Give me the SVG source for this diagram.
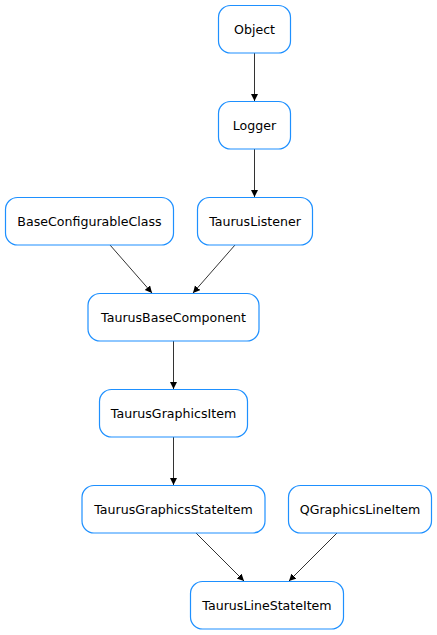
<svg xmlns="http://www.w3.org/2000/svg" width="437" height="635" viewBox="0 0 437 635">
<style>
.n rect{fill:#fff;stroke:#1e90ff;stroke-width:1.2}
.n text{font-family:"DejaVu Sans",sans-serif;font-size:12.6px;fill:#000;text-anchor:middle;dominant-baseline:central}
.e line{stroke:#333;stroke-width:1}
</style>
<defs>
<marker id="a" markerUnits="userSpaceOnUse" markerWidth="10" markerHeight="10" refX="7" refY="3.5" orient="auto">
<path d="M0,0 L7,3.5 L0,7 Z" fill="#000"/>
</marker>
</defs>
<rect width="437" height="635" fill="#fff"/>
<g id="edges" class="e">
<line x1="254.5" y1="53" x2="254.5" y2="101" marker-end="url(#a)"/>
<line x1="254.5" y1="149" x2="254.5" y2="197" marker-end="url(#a)"/>
<line x1="110" y1="245" x2="152" y2="293" marker-end="url(#a)"/>
<line x1="235" y1="245" x2="193" y2="293" marker-end="url(#a)"/>
<line x1="173.5" y1="341" x2="173.5" y2="389" marker-end="url(#a)"/>
<line x1="173.5" y1="437" x2="173.5" y2="485" marker-end="url(#a)"/>
<line x1="196" y1="533" x2="244" y2="581" marker-end="url(#a)"/>
<line x1="337" y1="533" x2="289" y2="581" marker-end="url(#a)"/>
</g>
<g id="Object" class="n"><rect x="218.5" y="5.5" width="72" height="47.5" rx="12"/><text x="254.5" y="29">Object</text></g>
<g id="Logger" class="n"><rect x="218.5" y="101.5" width="72" height="47.5" rx="12"/><text x="254.5" y="125">Logger</text></g>
<g id="BaseConfigurableClass" class="n"><rect x="5.5" y="197.5" width="168" height="47.5" rx="12"/><text x="89.5" y="221">BaseConfigurableClass</text></g>
<g id="TaurusListener" class="n"><rect x="197.5" y="197.5" width="115" height="47.5" rx="12"/><text x="255" y="221">TaurusListener</text></g>
<g id="TaurusBaseComponent" class="n"><rect x="88" y="293.5" width="171" height="47.5" rx="12"/><text x="173.5" y="317">TaurusBaseComponent</text></g>
<g id="TaurusGraphicsItem" class="n"><rect x="99.5" y="389.5" width="148" height="47.5" rx="12"/><text x="173.5" y="413">TaurusGraphicsItem</text></g>
<g id="TaurusGraphicsStateItem" class="n"><rect x="82" y="485.5" width="183" height="47.5" rx="12"/><text x="173.5" y="509">TaurusGraphicsStateItem</text></g>
<g id="QGraphicsLineItem" class="n"><rect x="288.5" y="485.5" width="143" height="47.5" rx="12"/><text x="360" y="509">QGraphicsLineItem</text></g>
<g id="TaurusLineStateItem" class="n"><rect x="190.5" y="581.5" width="153" height="47.5" rx="12"/><text x="267" y="605">TaurusLineStateItem</text></g>
</svg>
